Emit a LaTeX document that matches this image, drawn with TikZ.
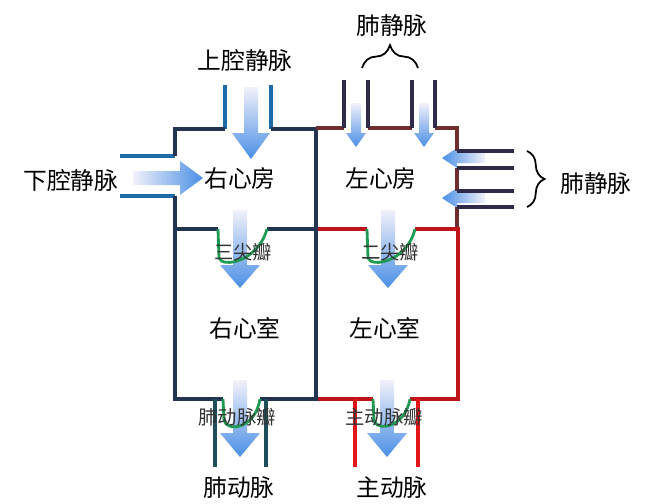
\documentclass[tikz,border=0pt]{standalone}
\usepackage{fontspec}
\newfontfamily\cjk{Noto Sans CJK SC}
\usepackage{tikz}
\usetikzlibrary{decorations.pathreplacing}

\definecolor{rightwall}{HTML}{22344F}
\definecolor{venablue}{HTML}{1F6BA8}
\definecolor{leftwall}{HTML}{6E2E2E}
\definecolor{pvline}{HTML}{2E2A48}
\definecolor{lvred}{HTML}{C0141B}
\definecolor{artteal}{HTML}{1E4E5A}
\definecolor{aortared}{HTML}{E3151A}
\definecolor{valvegreen}{HTML}{1E9A52}
\definecolor{flowblue}{HTML}{4A8FE6}
\definecolor{flowpale}{HTML}{F2F1FA}

\newcommand{\flowdown}[6]{\shade[top color=flowpale, bottom color=flowblue] (#1-#4,#2) -- (#1-#4,#3-#6) -- (#1-#5,#3-#6) -- (#1,#3) -- (#1+#5,#3-#6) -- (#1+#4,#3-#6) -- (#1+#4,#2) -- cycle;}
\newcommand{\flowright}[6]{\shade[left color=flowpale, right color=flowblue] (#2,#1-#4) -- (#3-#6,#1-#4) -- (#3-#6,#1-#5) -- (#3,#1) -- (#3-#6,#1+#5) -- (#3-#6,#1+#4) -- (#2,#1+#4) -- cycle;}
\newcommand{\flowleft}[6]{\shade[left color=flowblue, right color=flowpale] (#2,#1-#4) -- (#3+#6,#1-#4) -- (#3+#6,#1-#5) -- (#3,#1) -- (#3+#6,#1+#5) -- (#3+#6,#1+#4) -- (#2,#1+#4) -- cycle;}

\begin{document}
\begin{tikzpicture}[x=0.02cm,y=-0.02cm,line join=miter,
	wall/.style={line width=2pt},
	chamber/.style={line width=2.6pt},
	vessel/.style={line width=1.8pt},
	valve/.style={valvegreen,line width=1.6pt},
	part/.style={font=\cjk\fontsize{13.5}{14}\selectfont,inner sep=0pt},
	valvetext/.style={font=\cjk\fontsize{11}{12}\selectfont,inner sep=0pt,text=black!80},
	bracket/.style={decorate,line width=1pt}]
	\useasboundingbox (0,0) rectangle (650,504);

	\flowdown{251}{87}{159}{7}{19}{26}
	\flowright{178}{133}{203}{7}{17}{23}
	\flowdown{356}{103}{147}{5}{10}{14}
	\flowdown{424}{103}{147}{5}{10}{14}
	\flowleft{158}{485}{442}{5}{10}{15}
	\flowleft{198}{485}{442}{5}{10}{15}
	\flowdown{240}{210}{288}{7}{20}{23}
	\flowdown{388}{210}{288}{7}{20}{23}
	\flowdown{240}{380}{457}{7}{20}{24}
	\flowdown{387}{380}{457}{7}{20}{24}

	\draw[vessel,venablue] (225,85) -- (225,129) (271,85) -- (271,129)
		(120,156) -- (175,156) (120,196) -- (175,196);
	\draw[wall,rightwall] (225,129) -- (175,129) -- (175,156)
		(175,196) -- (175,229)
		(271,129) -- (316,129) -- (316,229);
	\draw[chamber,rightwall] (218,229) -- (175,229) -- (175,399) -- (223,399)
		(260,399) -- (316,399) -- (316,229) -- (267,229);
	\draw[wall,leftwall] (316,128) -- (344,128) (368,128) -- (412,128) (435,128) -- (457,128) -- (457,151)
		(457,168) -- (457,191) (457,207) -- (457,229);
	\draw[vessel,pvline] (344,128) -- (344,80) (368,80) -- (368,128) (412,128) -- (412,80) (435,80) -- (435,128)
		(457,151) -- (514,151) (457,168) -- (514,168) (457,191) -- (514,191) (457,207) -- (514,207);
	\draw[chamber,lvred] (318,229) -- (367,229) (415,229) -- (458,229) -- (458,399) -- (410,399)
		(373,399) -- (318,399);
	\draw[vessel,artteal] (215,399) -- (215,467) (266,399) -- (266,467);
	\draw[vessel,aortared] (355,399) -- (355,467) (418,399) -- (418,467);

	\draw[valve] (218,229) -- (219,258) .. controls (222,268) and (258,262) .. (267,229);
	\draw[valve] (367,229) -- (368,258) .. controls (371,268) and (407,262) .. (415,229);
	\draw[valve] (223,399) -- (224,420) .. controls (226,432) and (255,430) .. (260,399);
	\draw[valve] (373,399) -- (374,420) .. controls (376,432) and (405,428) .. (410,399);

	\draw[bracket,decoration={brace,amplitude=13pt}] (362,68) -- (418,68);
	\draw[bracket,decoration={brace,amplitude=10pt}] (527,151) -- (527,207);

	\node[part] (svc) at (245,60) {上腔静脉};
	\node[part] (ivc) at (71,180) {下腔静脉};
	\node[part] (pvtop) at (392,25) {肺静脉};
	\node[part] (pvside) at (596,183) {肺静脉};
	\node[part] (ra) at (240,178) {右心房};
	\node[part] (la) at (381,178) {左心房};
	\node[part] (rv) at (245,328) {右心室};
	\node[part] (lv) at (385,328) {左心室};
	\node[part] (pa) at (239,488) {肺动脉};
	\node[part] (ao) at (392,488) {主动脉};
	\node[valvetext] (tricuspid) at (243,252) {三尖瓣};
	\node[valvetext] (mitral) at (390,252) {二尖瓣};
	\node[valvetext] (pulmvalve) at (237,417) {肺动脉瓣};
	\node[valvetext] (aortvalve) at (384,417) {主动脉瓣};
\end{tikzpicture}
\end{document}
